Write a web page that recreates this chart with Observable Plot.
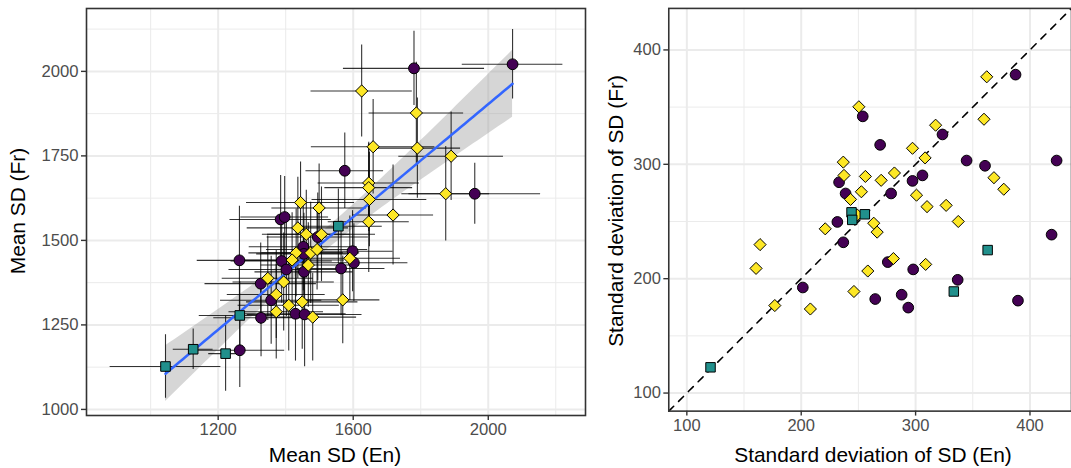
<!DOCTYPE html>
<html>
<head>
<meta charset="utf-8">
<script src="https://cdn.jsdelivr.net/npm/d3@7"></script>
<script src="https://cdn.jsdelivr.net/npm/@observablehq/plot@0.6"></script>
<style>
  html, body { margin: 0; padding: 0; background: #fff; overflow: hidden; width: 1071px; height: 468px; }
  #wrap { position: relative; width: 1071px; height: 468px; font-family: "Liberation Sans", Arial, sans-serif; }
  .panel { position: absolute; top: 0; }
  .title { position: absolute; font-size: 20.9px; color: #000; white-space: nowrap; line-height: 1; }
  .ytitle { transform: translate(-50%, -50%) rotate(-90deg); }
  .xtitle { transform: translate(-50%, -50%); }
</style>
</head>
<body>
<div id="wrap">
  <div id="left" class="panel" style="left:0px"></div>
  <div id="right" class="panel" style="left:600px"></div>
  <div class="title xtitle" style="left:335px; top:455px">Mean SD (En)</div>
  <div class="title ytitle" style="left:18px; top:211px">Mean SD (Fr)</div>
  <div class="title xtitle" style="left:873px; top:455px">Standard deviation of SD (En)</div>
  <div class="title ytitle" style="left:616px; top:211px">Standard deviation of SD (Fr)</div>
</div>
<script>
// ---------- data: left panel (mean SD, En vs Fr, with error bars) ----------
const groupsL = ["A","A","A","A","A","A","A","A","A","A","A","A","A","A","A","A","A","A","A","A","A","A",
  "C","C","C","C","C","C","C","C","C","C","C","C","C","C","C","C","C","C","C","C","C","C","C","C","C","C","C","C","C","C",
  "B","B","B","B","B"];
const meanEn = [1780,2072,1575,1960,1385,1397,1452,1454,1388,1402,1454,1263,1357,1327,1429,1456,1264,1326,1495,1598,1602,1564,
  1625,1787,1659,1790,1890,1874,1646,1646,1648,1646,1718,1499,1444,1436,1461,1506,1474,1493,1431,1419,1467,1347,1394,1372,1409,1449,1372,1480,1590,1569,
  1044,1126,1222,1264,1556];
const meanFr = [2009,2021,1706,1638,1562,1569,1481,1460,1439,1414,1407,1441,1323,1271,1283,1281,1175,1372,1510,1468,1434,1417,
  1942,1877,1777,1773,1749,1638,1670,1656,1621,1555,1575,1596,1612,1537,1518,1518,1463,1473,1463,1442,1427,1388,1377,1340,1308,1318,1289,1273,1447,1324,
  1127,1178,1165,1278,1542];
const errEn = [209,149,115,195,150,130,160,140,150,170,145,125,150,140,150,170,133,165,150,120,160,130,
  150,140,183,128,155,130,150,130,170,120,120,140,160,150,130,160,145,150,140,155,140,135,150,145,150,165,140,130,150,110,
  164,59,50,120,130];
const errFr = [110,103,112,90,130,120,130,120,125,140,130,160,130,115,140,155,110,120,130,120,115,140,
  136,150,140,148,131,140,120,130,140,150,148,130,120,150,130,140,150,120,130,140,125,125,145,130,135,140,140,130,125,130,
  94,60,111,100,110];

// ---------- data: right panel (SD of SD, En vs Fr) ----------
const groupsR = ["A","A","A","A","A","A","A","A","A","A","A","A","A","A","A","A","A","A","A","A","A","A","A",
  "C","C","C","C","C","C","C","C","C","C","C","C","C","C","C","C","C","C","C","C","C","C","C","C","C","C","C","C","C","C","C",
  "B","B","B","B","B","B"];
const sdEn = [387.4,253.8,269.0,323.5,344.6,360.7,423.3,306.0,297.3,233.1,238.8,278.6,231.6,236.8,201.4,275.7,297.9,264.7,287.8,293.6,389.5,418.9,336.8,
  362.2,250.4,317.5,359.8,297.3,308.3,236.8,237.4,256.1,269.9,281.5,368.5,377.1,252.6,243.1,300.8,310.0,326.7,337.3,263.4,266.4,248.9,280.6,258.2,308.8,246.1,221.0,164.0,160.5,176.9,208.0,
  120.7,244.0,244.6,255.6,363.0,333.4];
const sdFr = [378.4,341.9,317.0,326.1,303.3,298.7,303.3,290.3,285.5,284.3,274.5,274.5,249.6,231.8,192.3,214.5,208.1,182.2,186.0,174.7,180.8,238.5,199.0,
  376.5,350.3,334.2,339.4,314.0,305.6,301.9,290.3,289.4,286.0,292.4,288.3,278.2,276.0,269.3,273.0,263.0,264.1,250.0,248.5,240.7,255.7,217.6,206.7,212.5,188.8,243.6,229.8,209.0,176.5,173.5,
  122.5,258.0,251.4,256.3,225.0,188.8];

// ---------- axes ticks ----------
const leftXTicks = [1200, 1600, 2000];
const leftXMinor = [1000, 1400, 1800, 2200];
const leftYTicks = [1000, 1250, 1500, 1750, 2000];
const leftYMinor = [1125, 1375, 1625, 1875, 2125];
const rightTicks = [100, 200, 300, 400];
const rightMinor = [150, 250, 350];

const groupDomain = ["A", "B", "C"];
const groupColors = ["#440154", "#21908C", "#FDE725"];

// symbols (ggplot shapes 21, 22, 23)
const symCircle = { draw(ctx, size) { const r = Math.sqrt(size / Math.PI); ctx.moveTo(r, 0); ctx.arc(0, 0, r, 0, 2 * Math.PI); } };
const symSquare = { draw(ctx, size) { const s = Math.sqrt(size) / 2; ctx.rect(-s, -s, 2 * s, 2 * s); } };
const symDiamond = { draw(ctx, size) { const r = Math.sqrt(size) * 0.64; ctx.moveTo(0, -r); ctx.lineTo(r, 0); ctx.lineTo(0, r); ctx.lineTo(-r, 0); ctx.closePath(); } };

const left = meanEn.map((x, i) => ({ g: groupsL[i], x, y: meanFr[i], xe: errEn[i], ye: errFr[i] }));
const right = sdEn.map((x, i) => ({ g: groupsR[i], x, y: sdFr[i] }));

// linear fit + 95% CI (geom_smooth method = "lm")
const n = left.length;
const mx = d3.mean(left, d => d.x), my = d3.mean(left, d => d.y);
const sxx = d3.sum(left, d => (d.x - mx) ** 2);
const b = d3.sum(left, d => (d.x - mx) * (d.y - my)) / sxx;
const a = my - b * mx;
const s = Math.sqrt(d3.sum(left, d => (d.y - a - b * d.x) ** 2) / (n - 2));
const tq = 2.004;
const [xmin, xmax] = d3.extent(left, d => d.x);
const band = d3.range(81).map(k => {
  const x = xmin + (xmax - xmin) * k / 80;
  const fit = a + b * x;
  const se = s * Math.sqrt(1 / n + (x - mx) ** 2 / sxx);
  return { x, fit, lo: fit - tq * se, hi: fit + tq * se };
});

const fmt = d3.format("d");
const common = {
  height: 468, marginTop: 8, marginBottom: 53,
  style: { fontFamily: '"Liberation Sans", Arial, sans-serif', fontSize: "16.7px", color: "#4D4D4D", background: "transparent", overflow: "visible" },
  color: { domain: groupDomain, range: groupColors },
  symbol: { domain: groupDomain, range: [symCircle, symSquare, symDiamond] }
};

const leftPlot = Plot.plot({
  ...common,
  width: 600, marginLeft: 86, marginRight: 15,
  x: { domain: [810, 2288] },
  y: { domain: [982, 2186] },
  marks: [
    Plot.ruleX(leftXMinor, { stroke: "#EBEBEB", strokeWidth: 1 }),
    Plot.ruleY(leftYMinor, { stroke: "#EBEBEB", strokeWidth: 1 }),
    Plot.ruleX(leftXTicks, { stroke: "#EBEBEB", strokeWidth: 2 }),
    Plot.ruleY(leftYTicks, { stroke: "#EBEBEB", strokeWidth: 2 }),
    Plot.areaY(band, { x: "x", y1: "lo", y2: "hi", fill: "#999999", fillOpacity: 0.4 }),
    Plot.ruleY(left, { y: "y", x1: d => d.x - d.xe, x2: d => d.x + d.xe, stroke: "#000", strokeWidth: 1.1, strokeOpacity: 0.8, clip: true }),
    Plot.ruleX(left, { x: "x", y1: d => d.y - d.ye, y2: d => d.y + d.ye, stroke: "#000", strokeWidth: 1.1, strokeOpacity: 0.8, clip: true }),
    Plot.line(band, { x: "x", y: "fit", stroke: "#3366FF", strokeWidth: 2.5 }),
    Plot.dot(left, { x: "x", y: "y", r: 5.4, symbol: "g", fill: "g", stroke: "#000", strokeWidth: 1, clip: true }),
    Plot.frame({ stroke: "#333333", strokeWidth: 1.6 }),
    Plot.axisX({ ticks: leftXTicks, tickFormat: fmt, tickSize: 5, tickPadding: 3, stroke: "#333333", strokeWidth: 1.4, fill: "#4D4D4D", label: null }),
    Plot.axisY({ ticks: leftYTicks, tickFormat: fmt, tickSize: 5, tickPadding: 3, stroke: "#333333", strokeWidth: 1.4, fill: "#4D4D4D", label: null })
  ]
});
document.getElementById("left").appendChild(leftPlot);

const rightDomain = [84.2, 436.3];
const rightPlot = Plot.plot({
  ...common,
  width: 476, marginLeft: 69, marginRight: 0,
  x: { domain: rightDomain },
  y: { domain: rightDomain },
  marks: [
    Plot.ruleX(rightMinor, { stroke: "#EBEBEB", strokeWidth: 1 }),
    Plot.ruleY(rightMinor, { stroke: "#EBEBEB", strokeWidth: 1 }),
    Plot.ruleX(rightTicks, { stroke: "#EBEBEB", strokeWidth: 2 }),
    Plot.ruleY(rightTicks, { stroke: "#EBEBEB", strokeWidth: 2 }),
    Plot.line(rightDomain, { x: d => d, y: d => d, stroke: "#000", strokeWidth: 1.6, strokeDasharray: "7,7" }),
    Plot.dot(right, { x: "x", y: "y", r: 5.4, symbol: "g", fill: "g", stroke: "#000", strokeWidth: 1, clip: true }),
    Plot.frame({ stroke: "#333333", strokeWidth: 1.6 }),
    Plot.axisX({ ticks: rightTicks, tickFormat: fmt, tickSize: 5, tickPadding: 3, stroke: "#333333", strokeWidth: 1.4, fill: "#4D4D4D", label: null }),
    Plot.axisY({ ticks: rightTicks, tickFormat: fmt, tickSize: 5, tickPadding: 3, stroke: "#333333", strokeWidth: 1.4, fill: "#4D4D4D", label: null })
  ]
});
document.getElementById("right").appendChild(rightPlot);
</script>
</body>
</html>
